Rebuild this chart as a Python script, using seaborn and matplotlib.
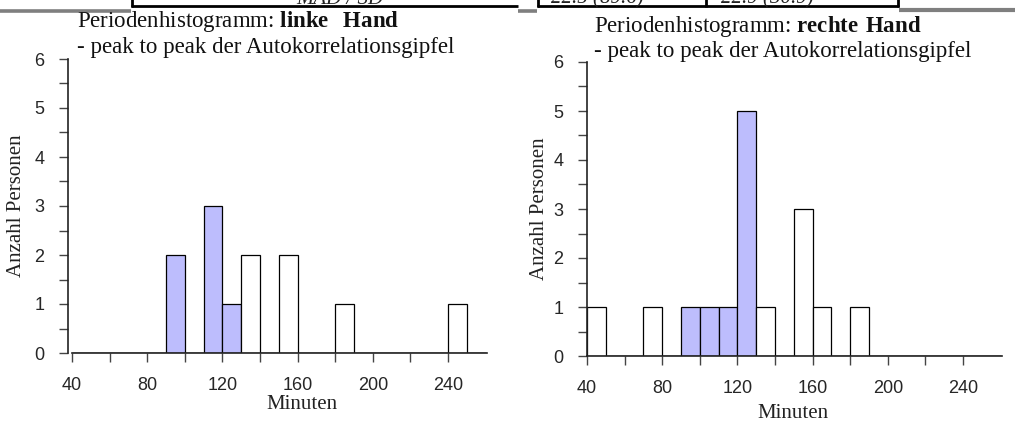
import numpy as np
import pandas as pd
import matplotlib
matplotlib.use("Agg")
import matplotlib.pyplot as plt
import seaborn as sns
from matplotlib.lines import Line2D

# Period histograms (10-minute bins): left and right hand
left_bin_start = [90, 110, 120, 130, 150, 180, 240]
left_counts = [2, 3, 1, 2, 2, 1, 1]
left_group = ["kern", "kern", "kern", "rest", "rest", "rest", "rest"]

right_bin_start = [40, 70, 90, 100, 110, 120, 130, 150, 160, 180]
right_counts = [1, 1, 1, 1, 1, 5, 1, 3, 1, 1]
right_group = ["rest", "rest", "kern", "kern", "kern", "kern",
               "rest", "rest", "rest", "rest"]

bin_edges = list(range(40, 261, 10))
x_ticks = list(range(40, 241, 20))
x_tick_labels = ["40", "", "80", "", "120", "", "160", "", "200", "", "240"]
y_ticks = [0, 1, 2, 3, 4, 5, 6]
y_minor = [0.5, 1.5, 2.5, 3.5, 4.5, 5.5]

title_main = ["Periodenhistogramm: ", "Periodenhistogramm: "]
title_bold = [r"$\mathbf{linke\ \ Hand}$", r"$\mathbf{rechte\ Hand}$"]
subtitle = "- peak to peak der Autokorrelationsgipfel"
y_label = "Anzahl Personen"
x_label = "Minuten"

# partially visible table row above the charts
table_texts = ["MAD / SD", "22.5 (89.6)", "22.9 (30.9)"]

sns.set_style("ticks")
plt.rcParams["font.family"] = ["Liberation Sans", "DejaVu Sans"]
plt.rcParams["mathtext.fontset"] = "custom"
plt.rcParams["mathtext.rm"] = "Liberation Serif"
plt.rcParams["mathtext.bf"] = "Liberation Serif:bold"

W, H = 1015, 423
fig = plt.figure(figsize=(W / 100, H / 100), dpi=100)
fig.patch.set_facecolor("white")

palette = {"kern": "#BDBDFD", "rest": "white"}
serif = "Liberation Serif"


def px_axes(x0, y_zero, x1, y_top):
    return fig.add_axes([x0 / W, 1 - y_zero / H, (x1 - x0) / W, (y_zero - y_top) / H])


def draw_panel(ax, starts, counts, groups, outward):
    df = pd.DataFrame({
        "minuten": np.asarray(starts) + 5,
        "anzahl": counts,
        "gruppe": groups,
    })
    sns.histplot(data=df, x="minuten", weights="anzahl", hue="gruppe",
                 hue_order=["rest", "kern"], palette=palette, bins=bin_edges,
                 multiple="layer", alpha=1, edgecolor="black", linewidth=0.9,
                 legend=False, ax=ax)
    ax.set_xlim(40, 260.7)
    ax.set_ylim(0, 6)
    ax.set_xticks(x_ticks)
    ax.set_xticklabels(x_tick_labels)
    ax.set_yticks(y_ticks)
    ax.set_yticks(y_minor, minor=True)
    ax.tick_params(axis="both", which="both", direction="out", length=6.5,
                   width=1, color="#444444", labelsize=13)
    ax.tick_params(axis="y", which="both", pad=10.5)
    ax.tick_params(axis="x", pad=10.5)
    for side in ("top", "right"):
        ax.spines[side].set_visible(False)
    for side in ("left", "bottom"):
        ax.spines[side].set_linewidth(1.2)
        ax.spines[side].set_color("#222222")
    if outward:
        ax.spines["left"].set_position(("outward", 3))
    ax.set_facecolor("white")
    ax.set_ylabel(y_label, fontfamily=serif, fontsize=15, va="center",
                  color="#222222")
    ax.set_xlabel(x_label, fontfamily=serif, fontsize=15, va="center",
                  color="#222222")


ax_l = px_axes(72, 353, 487, 59)
draw_panel(ax_l, left_bin_start, left_counts, left_group, True)
ax_l.yaxis.set_label_coords((17 - 72) / 415, 0.5)
ax_l.xaxis.set_label_coords((302 - 72) / 415, (353 - 404) / 294)

ax_r = px_axes(587, 356, 1002, 62)
draw_panel(ax_r, right_bin_start, right_counts, right_group, False)
ax_r.yaxis.set_label_coords((540 - 587) / 415, 0.5)
ax_r.xaxis.set_label_coords((793 - 587) / 415, (356 - 413) / 294)

# panel titles
for (x, y1, y2), main, bold in zip([(77, 27, 53), (594, 32, 57)], title_main, title_bold):
    fig.text(x / W, 1 - y1 / H, main + bold, fontfamily=serif, fontsize=16.5,
             ha="left", va="baseline", color="#111111")
    fig.text(x / W, 1 - y2 / H, subtitle, fontfamily=serif, fontsize=16.5,
             ha="left", va="baseline", color="#111111")


# bottom edge of the table above
def fig_line(xs, ys, color, lw):
    fig.add_artist(Line2D([x / W for x in xs], [1 - y / H for y in ys],
                          color=color, lw=lw, solid_capstyle="butt"))


gray = "#7f7f7f"
fig_line([0, 131], [11.5, 11.5], gray, 2.6)
fig_line([518, 537], [11.5, 11.5], gray, 2.6)
fig_line([899, W], [10, 10], gray, 3.0)
fig_line([131, 518], [6.5, 6.5], "black", 2.0)
fig_line([537, 899], [6.5, 6.5], "black", 2.0)
for xv in (131.5, 537.5, 706, 898):
    fig_line([xv, xv], [-1, 7.5], "black", 2.0)

for xc, txt in zip([340, 597, 767], table_texts):
    fig.text(xc / W, 1 - 3.5 / H, txt, fontfamily=serif, fontsize=15,
             style="italic", ha="center", va="baseline", color="#222222")

fig.savefig("out.png", dpi=100, facecolor="white")
